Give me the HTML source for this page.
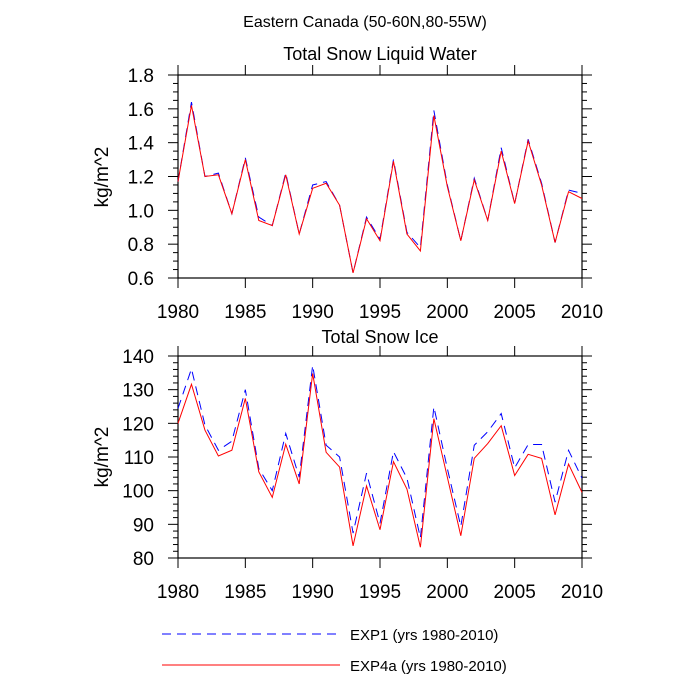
<!DOCTYPE html>
<html><head><meta charset="utf-8"><style>
body{margin:0;background:#fff}
svg{display:block;font-family:"Liberation Sans",sans-serif}
</style></head><body>
<svg id="c" width="700" height="700">
<text x="365" y="27" text-anchor="middle" font-size="16">Eastern Canada (50-60N,80-55W)</text>
<text x="380" y="60" text-anchor="middle" font-size="18">Total Snow Liquid Water</text>
<text x="380" y="343" text-anchor="middle" font-size="18">Total Snow Ice</text>
<text transform="translate(108,177) rotate(-90)" text-anchor="middle" font-size="19">kg/m^2</text>
<text transform="translate(108,457) rotate(-90)" text-anchor="middle" font-size="19">kg/m^2</text>
<g id="top"></g>
<g id="bot"></g>
<line x1="162" y1="634" x2="340" y2="634" stroke="#00f" stroke-dasharray="9,6"/>
<text x="350" y="640" font-size="15">EXP1 (yrs 1980-2010)</text>
<line x1="162" y1="665" x2="340" y2="665" stroke="#f00"/>
<text x="350" y="671" font-size="15">EXP4a (yrs 1980-2010)</text>
</svg>
<script>
const years=[];for(let y=1980;y<=2010;y++)years.push(y);
const xTicks=[1980,1985,1990,1995,2000,2005,2010];
const topExp4a=[1.17,1.62,1.20,1.21,0.98,1.30,0.94,0.91,1.21,0.86,1.13,1.16,1.03,0.63,0.95,0.82,1.29,0.86,0.76,1.56,1.14,0.82,1.18,0.94,1.35,1.04,1.41,1.15,0.81,1.11,1.07];
const topExp1=[1.17,1.64,1.20,1.22,0.98,1.31,0.96,0.91,1.22,0.86,1.15,1.17,1.03,0.63,0.96,0.83,1.30,0.87,0.78,1.59,1.15,0.82,1.19,0.94,1.37,1.04,1.42,1.16,0.81,1.12,1.10];
const topYTicks=[0.6,0.8,1.0,1.2,1.4,1.6,1.8];
const botExp4a=[120,131.6,118,110.3,112,127.4,105.6,98,113.8,102,134.8,111.4,107,83.6,101.4,88.4,108.6,100.5,83.2,121.4,104,86.6,109.6,114,119.3,104.5,110.8,109.6,92.8,107.9,99.5];
const botExp1=[124.4,136.2,119.5,112,114.7,130,106.6,100,117,104,137.2,113.5,110,87.4,105.2,90.3,111.6,103.7,86,124.9,106.6,89.4,113.5,117.5,122.9,106.8,113.7,113.7,96.6,112,103.7];
const botYTicks=[80,90,100,110,120,130,140];
const NS='http://www.w3.org/2000/svg';
function mk(p,t,a){const e=document.createElementNS(NS,t);for(const k in a)e.setAttribute(k,a[k]);p.appendChild(e);return e;}
function panel(g,y0,y1,ymin,ymax,yt,minor,dec,s1,s2,nm){
 const L=178,R=582;
 const X=v=>L+(v-1980)/30*(R-L);
 const Y=v=>y1-(v-ymin)/(ymax-ymin)*(y1-y0);
 const fr=mk(g,'rect',{x:L,y:y0,width:R-L,height:y1-y0,fill:'none',stroke:'#000','stroke-width':1.2});
 
 
 for(let v=ymin;v<=ymax+1e-9;v+=minor){
  const y=Y(v);const maj=yt.some(t=>Math.abs(t-v)<1e-6);const l=maj?10:5;
  const t1=mk(g,'line',{x1:L-l,y1:y,x2:L,y2:y,stroke:'#000'});
  
  
  const t2=mk(g,'line',{x1:R,y1:y,x2:R+l,y2:y,stroke:'#000'});
  
  
 }
 yt.forEach(v=>{const t=mk(g,'text',{x:L-24,y:Y(v)+7,'text-anchor':'end','font-size':19});t.textContent=v.toFixed(dec);
  
  });
 xTicks.forEach(v=>{const x=X(v);
  const a=mk(g,'line',{x1:x,y1:y0-10,x2:x,y2:y0,stroke:'#000'});
  
  
  const b=mk(g,'line',{x1:x,y1:y1,x2:x,y2:y1+10,stroke:'#000'});
  
  
  const t=mk(g,'text',{x:x,y:y1+40,'text-anchor':'middle','font-size':19});t.textContent=v;
  
  });
 const p1=mk(g,'polyline',{points:years.map((yr,i)=>X(yr)+','+Y(s1[i])).join(' '),fill:'none',stroke:'#00f','stroke-width':1,'stroke-dasharray':'9,6'});
 
 
 const p2=mk(g,'polyline',{points:years.map((yr,i)=>X(yr)+','+Y(s2[i])).join(' '),fill:'none',stroke:'#f00','stroke-width':1});
 
 
}
panel(document.getElementById('top'),75,278,0.6,1.8,topYTicks,0.05,1,topExp1,topExp4a,'top');
panel(document.getElementById('bot'),356,558,80,140,botYTicks,2,0,botExp1,botExp4a,'bottom');
</script>
</body></html>
